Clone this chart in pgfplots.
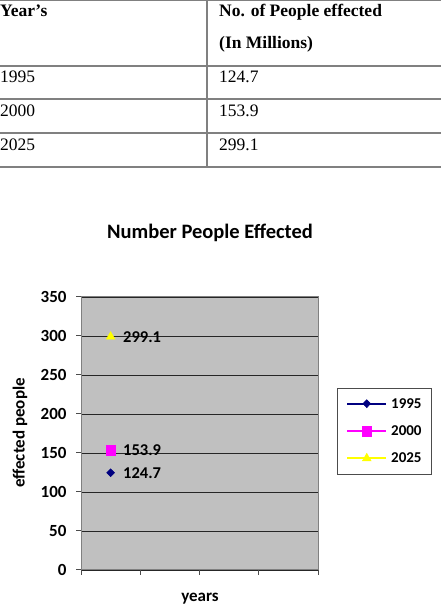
\documentclass[border=0pt]{standalone}
\usepackage{pgfplots}
\pgfplotsset{compat=1.18}
\usepackage{fontspec}
\setmainfont{Liberation Serif}
\newfontfamily\calfont{Carlito}

\definecolor{plotbg}{HTML}{C0C0C0}
\definecolor{navyser}{HTML}{000080}
\definecolor{magser}{HTML}{FF00FF}
\definecolor{yelser}{HTML}{FFFF00}
\definecolor{rulegray}{HTML}{808080}

\begin{document}
\begin{tikzpicture}[x=1bp,y=1bp]
\path[use as bounding box] (0,0) rectangle (441,607);

% ---- data table ----
\begin{scope}[rulegray, line width=1.4bp]
  \draw (0,606.5) -- (441,606.5);
  \draw (0,541) -- (441,541);
  \draw (0,508) -- (441,508);
  \draw (0,474) -- (441,474);
  \draw (0,440) -- (441,440);
  \draw (207,607) -- (207,440);
\end{scope}
\begin{scope}[every node/.style={inner sep=0pt, anchor=base west, font=\fontsize{17.5bp}{20bp}\selectfont}]
  \node at (0,590) {\bfseries Year’s};
  \node at (219,590) {\bfseries No. of People effected};
  \node at (219,558) {\bfseries (In Millions)};
  \node at (0,524) {1995};   \node at (219,524) {124.7};
  \node at (0,490) {2000};   \node at (219,490) {153.9};
  \node at (0,456) {2025};   \node at (219,456) {299.1};
\end{scope}

% ---- chart ----
\node[font=\calfont\bfseries\fontsize{20.5bp}{23bp}\selectfont] at (210,374) {Number People Effected};
\node[font=\calfont\bfseries\fontsize{17bp}{19bp}\selectfont, rotate=90] at (20,174) {effected people};
\node[font=\calfont\bfseries\fontsize{17bp}{19bp}\selectfont, anchor=base] at (200,5) {years};

\begin{axis}[
  at={(81bp,37bp)}, anchor=south west,
  scale only axis, width=237bp, height=273bp,
  xmin=0, xmax=4, ymin=0, ymax=350,
  xtick={0,1,2,3,4}, xticklabels={},
  ytick={0,50,...,350},
  xtick pos=bottom, ytick pos=left,
  tick align=outside, major tick length=5bp,
  tick style={black!70, line width=1bp},
  axis line style={rulegray, line width=1bp},
  axis background/.style={fill=plotbg},
  ymajorgrids, grid style={black!85, line width=0.9bp},
  /pgf/number format/assume math mode=true,
  ticklabel style={font=\calfont\bfseries\fontsize{17bp}{19bp}\selectfont},
  yticklabel style={xshift=-6bp},
  clip=false,
  nodes near coords,
  point meta=explicit symbolic,
  every node near coord/.style={anchor=west, xshift=9bp, yshift=0bp,
    font=\calfont\bfseries\fontsize{16.5bp}{18bp}\selectfont, text=black},
  legend style={at={(1.080,0.667)}, anchor=north west,
    draw=black!70, line width=0.8bp, fill=white,
    font=\calfont\bfseries\fontsize{15bp}{17bp}\selectfont,
    row sep=14bp, column sep=3bp, inner xsep=9bp, inner ysep=9bp,
    nodes={inner sep=1bp}},
  legend cell align=left,
  legend image code/.code={
    \draw[mark repeat=2, mark phase=2, #1, line width=1.8bp]
      plot coordinates {(0bp,0.3bp) (19.5bp,0.3bp) (39bp,0.3bp)};},
]
\addplot[navyser, line width=1bp, mark=diamond*, mark size=4bp,
  mark options={fill=navyser, draw=navyser, xscale=1.3, line width=0.5bp}]
  coordinates {(0.5,124.7) [124.7]};
\addlegendentry{1995}
\addplot[magser, line width=1bp, mark=square*, mark size=4.8bp,
  mark options={fill=magser, draw=magser, line width=0.5bp}]
  coordinates {(0.5,153.9) [153.9]};
\addlegendentry{2000}
\addplot[yelser, line width=1bp, mark=triangle*, mark size=5bp,
  mark options={fill=yelser, draw=yelser, line width=0.5bp}]
  coordinates {(0.5,299.1) [299.1]};
\addlegendentry{2025}
\end{axis}
\end{tikzpicture}
\end{document}
